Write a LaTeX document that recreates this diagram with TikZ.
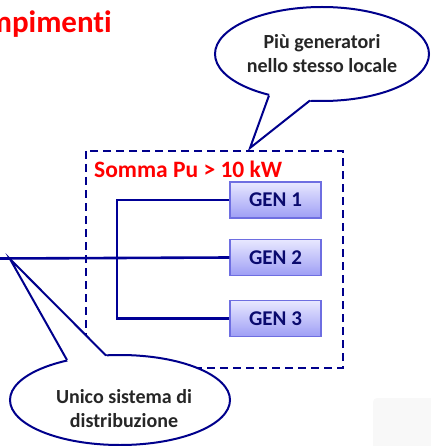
\documentclass[tikz,border=0pt]{standalone}
\usepackage{fontspec}
\setmainfont{Carlito}[Ligatures=NoCommon]
\usetikzlibrary{calc}
\definecolor{navy}{RGB}{0,0,150}
\definecolor{boxnavy}{RGB}{0,0,140}
\definecolor{gentext}{RGB}{10,10,110}
\definecolor{genborder}{RGB}{110,110,225}
\definecolor{gentop}{RGB}{232,232,255}
\definecolor{genbot}{RGB}{158,158,245}
\definecolor{titred}{RGB}{255,0,0}
\definecolor{ghost}{RGB}{248,248,248}
\tikzset{
  genbox/.style={draw=genborder, line width=1.2pt, top color=gentop, bottom color=genbot,
    minimum width=91pt, minimum height=36pt, inner sep=0pt,
    text=gentext, font=\bfseries\fontsize{21}{24}\selectfont},
  wire/.style={draw=navy, line width=2.6pt},
  calloutline/.style={draw=boxnavy, line width=2pt, line join=miter},
  callouttext/.style={anchor=base, inner sep=0pt, text=black!85, font=\bfseries\fontsize{20}{24}\selectfont},
  framebox/.style={draw=boxnavy, line width=2.6pt, dash pattern=on 8pt off 5pt}
}
\begin{document}
\begin{tikzpicture}[x=1pt,y=-1pt]
\useasboundingbox (0,0) rectangle (430,446);
% faint background rectangle
\fill[ghost, rounded corners=4pt] (373,398) rectangle (445,460);
% title
\node[anchor=base east, inner sep=0pt, text=titred, font=\bfseries\fontsize{31}{36}\selectfont] (title) at (112,33) {Adempimenti};
% dashed frame
\draw[framebox] (86,151) rectangle (343,368);
\node[anchor=base west, inner sep=0pt, text=titred, font=\bfseries\fontsize{23.5}{28}\selectfont] (somma) at (94,178) {Somma Pu > 10 kW};
% generators
\node[genbox] (gen1) at (275.5,200) {GEN 1};
\node[genbox] (gen2) at (275.5,257.5) {GEN 2};
\node[genbox] (gen3) at (275.5,318.5) {GEN 3};
\coordinate (bus) at (117,260);
\coordinate (feed) at (0,258.5);
\draw[wire] (gen1.west) -| (bus) |- (gen3.west);
\draw[wire] (feed) -- (gen2.west);
% callout 1
\coordinate (c1) at (322,54);
\coordinate (t1) at (250,148);
\coordinate (a1) at (269,95.5);
\coordinate (b1) at (310,100.5);
\filldraw[calloutline, fill=white] (c1) ellipse [x radius=107, y radius=47];
\fill[white] (t1) -- ($(t1)!1.12!(a1)$) -- ($(t1)!1.12!(b1)$) -- cycle;
\draw[calloutline] (a1) -- (t1) -- (b1);
\node[callouttext] (p1) at (322,49) {Più generatori};
\node[callouttext] (p2) at (322,73) {nello stesso locale};
% callout 2
\coordinate (c2) at (120,400);
\coordinate (t2) at (10,259);
\coordinate (a2) at (67,360);
\coordinate (b2) at (106,355.5);
\filldraw[calloutline, fill=white] (c2) ellipse [x radius=110, y radius=45];
\fill[white] (t2) -- ($(t2)!1.12!(a2)$) -- ($(t2)!1.12!(b2)$) -- cycle;
\draw[calloutline] (a2) -- (t2) -- (b2);
\node[callouttext] (u1) at (124,403) {Unico sistema di};
\node[callouttext] (u2) at (124,427) {distribuzione};
\end{tikzpicture}
\end{document}
